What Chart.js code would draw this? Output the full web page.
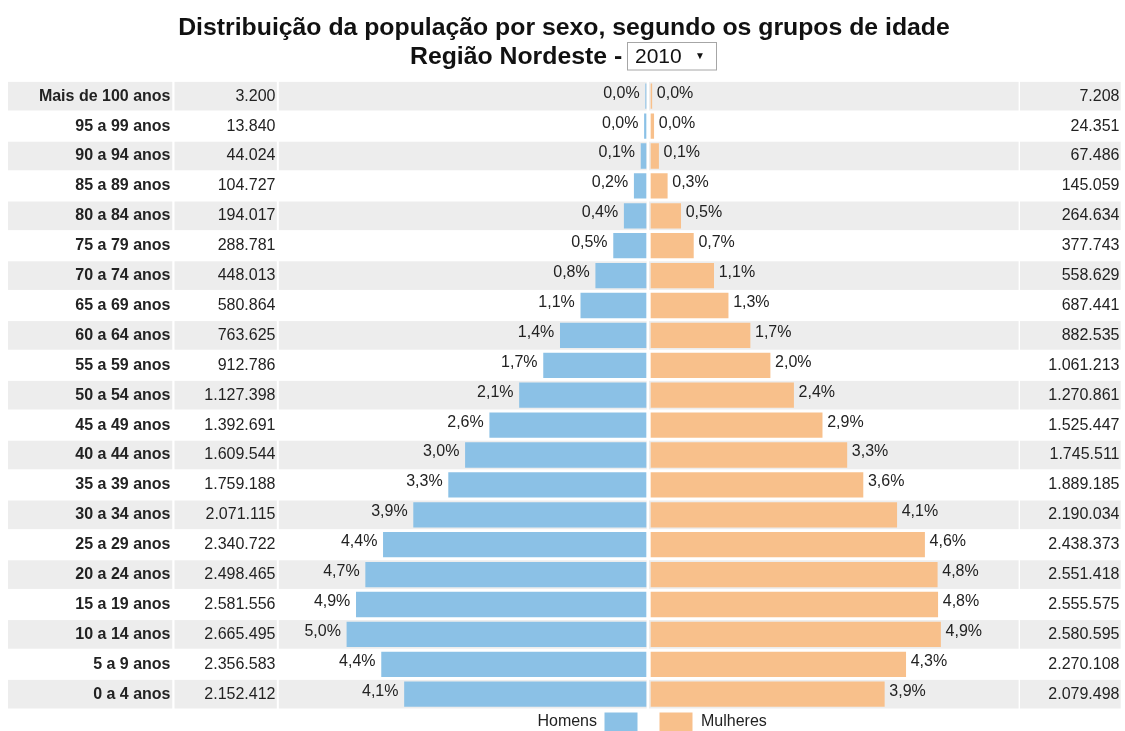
<!DOCTYPE html>
<html lang="pt-BR">
<head>
<meta charset="utf-8">
<script src="https://cdn.jsdelivr.net/npm/chart.js@4.4.1/dist/chart.umd.min.js"></script>
<style>
  html, body { margin: 0; padding: 0; background: #ffffff; }
  #wrap { position: relative; width: 1125px; height: 731px; overflow: hidden; }
  canvas { display: block; }
</style>
</head>
<body>
<div id="wrap"><canvas id="c" width="1125" height="731"></canvas></div>
<script>
// ---------- DATA ----------
const titleLine1 = 'Distribuição da população por sexo, segundo os grupos de idade';
const titleLine2 = 'Região Nordeste - ';
const selectedYear = '2010';

const ageGroups = [
  'Mais de 100 anos', '95 a 99 anos', '90 a 94 anos', '85 a 89 anos', '80 a 84 anos',
  '75 a 79 anos', '70 a 74 anos', '65 a 69 anos', '60 a 64 anos', '55 a 59 anos',
  '50 a 54 anos', '45 a 49 anos', '40 a 44 anos', '35 a 39 anos', '30 a 34 anos',
  '25 a 29 anos', '20 a 24 anos', '15 a 19 anos', '10 a 14 anos', '5 a 9 anos', '0 a 4 anos'
];

const homens = [
  3200, 13840, 44024, 104727, 194017,
  288781, 448013, 580864, 763625, 912786,
  1127398, 1392691, 1609544, 1759188, 2071115,
  2340722, 2498465, 2581556, 2665495, 2356583, 2152412
];

const mulheres = [
  7208, 24351, 67486, 145059, 264634,
  377743, 558629, 687441, 882535, 1061213,
  1270861, 1525447, 1745511, 1889185, 2190034,
  2438373, 2551418, 2555575, 2580595, 2270108, 2079498
];

const pctHomens = [
  '0,0%', '0,0%', '0,1%', '0,2%', '0,4%',
  '0,5%', '0,8%', '1,1%', '1,4%', '1,7%',
  '2,1%', '2,6%', '3,0%', '3,3%', '3,9%',
  '4,4%', '4,7%', '4,9%', '5,0%', '4,4%', '4,1%'
];

const pctMulheres = [
  '0,0%', '0,0%', '0,1%', '0,3%', '0,5%',
  '0,7%', '1,1%', '1,3%', '1,7%', '2,0%',
  '2,4%', '2,9%', '3,3%', '3,6%', '4,1%',
  '4,6%', '4,8%', '4,8%', '4,9%', '4,3%', '3,9%'
];

const seriesNames = ['Homens', 'Mulheres'];

// ---------- STYLE ----------
const FONT = "'Liberation Sans', Arial, sans-serif";
const BLUE = '#8bc1e6';
const ORANGE = '#f8c08b';
const STRIPE = '#ededed';
const TEXT = '#222222';

function fmt(n) { return String(n).replace(/\B(?=(\d{3})+(?!\d))/g, '.'); }

// Row backgrounds (table cells)
const stripePlugin = {
  id: 'stripes',
  beforeDatasetsDraw(chart) {
    const ctx = chart.ctx;
    const meta = chart.getDatasetMeta(0);
    const cols = [[8, 172.3], [174.5, 276.8], [278.8, 646.7], [649, 1018.6], [1020, 1120.7]];
    ctx.save();
    ctx.fillStyle = STRIPE;
    meta.data.forEach((bar, i) => {
      if (i % 2 !== 0) return;
      const top = bar.y - 14.3, h = 28.6;
      cols.forEach(c => ctx.fillRect(c[0], top, c[1] - c[0], h));
    });
    ctx.restore();
  }
};

// Text: age labels, counts, percentages, title, legend
const textPlugin = {
  id: 'texts',
  afterDatasetsDraw(chart) {
    const ctx = chart.ctx;
    const mH = chart.getDatasetMeta(0);
    const mM = chart.getDatasetMeta(1);
    ctx.save();
    ctx.textBaseline = 'middle';
    mH.data.forEach((bar, i) => {
      const y = bar.y;
      // age label
      ctx.font = 'bold 16px ' + FONT;
      ctx.fillStyle = TEXT;
      ctx.textAlign = 'right';
      ctx.fillText(ageGroups[i], 170.5, y);
      // male count
      ctx.font = '16px ' + FONT;
      ctx.fillText(fmt(homens[i]), 275.5, y);
      // female count
      ctx.fillText(fmt(mulheres[i]), 1119.5, y);
      // male percent
      ctx.textAlign = 'right';
      ctx.fillText(pctHomens[i], bar.x - 6, y - 3);
      // female percent
      const fb = mM.data[i];
      ctx.textAlign = 'left';
      ctx.fillText(pctMulheres[i], fb.x + 5, y - 3);
    });

    // Title
    ctx.fillStyle = '#111111';
    ctx.textAlign = 'center';
    ctx.font = 'bold 24.8px ' + FONT;
    ctx.fillText(titleLine1, 564, 28);
    ctx.textAlign = 'left';
    ctx.fillText(titleLine2, 410, 57);
    // select box
    ctx.fillStyle = '#ffffff';
    ctx.fillRect(627.5, 42, 89, 28);
    ctx.strokeStyle = '#a6a6a6';
    ctx.lineWidth = 1;
    ctx.strokeRect(627.5, 42.5, 89, 27.5);
    ctx.fillStyle = '#111111';
    ctx.font = '21px ' + FONT;
    ctx.fillText(selectedYear, 635, 57);
    ctx.font = '10px ' + FONT;
    ctx.fillText('▼', 695, 56);

    // Legend
    ctx.font = '16px ' + FONT;
    ctx.fillStyle = TEXT;
    ctx.textAlign = 'right';
    ctx.fillText(seriesNames[0], 597, 722);
    ctx.fillStyle = chart.data.datasets[0].backgroundColor;
    ctx.fillRect(604.5, 712.5, 33, 22);
    ctx.fillStyle = chart.data.datasets[1].backgroundColor;
    ctx.fillRect(659.5, 712.5, 33, 22);
    ctx.fillStyle = TEXT;
    ctx.textAlign = 'left';
    ctx.fillText(seriesNames[1], 701, 722);
    ctx.restore();
  }
};

new Chart(document.getElementById('c'), {
  type: 'bar',
  data: {
    labels: ageGroups,
    datasets: [
      { label: seriesNames[0], data: homens, xAxisID: 'xH', backgroundColor: BLUE,
        grouped: false, barThickness: 24.6, borderWidth: 0 },
      { label: seriesNames[1], data: mulheres, xAxisID: 'xM', backgroundColor: ORANGE,
        grouped: false, barThickness: 24.6, borderWidth: 0 }
    ]
  },
  options: {
    indexAxis: 'y',
    responsive: false,
    animation: false,
    devicePixelRatio: 1,
    layout: { padding: { left: 279, right: 106.5, top: 81.25, bottom: 21.85 } },
    scales: {
      y: { display: false, offset: true, grid: { display: false } },
      xH: { type: 'linear', display: false, reverse: true, min: -3319964, max: 3270945 },
      xM: { type: 'linear', display: false, min: -3315508, max: 3275401 }
    },
    plugins: {
      legend: { display: false },
      tooltip: { enabled: false },
      title: { display: false }
    }
  },
  plugins: [stripePlugin, textPlugin]
});
</script>
</body>
</html>
